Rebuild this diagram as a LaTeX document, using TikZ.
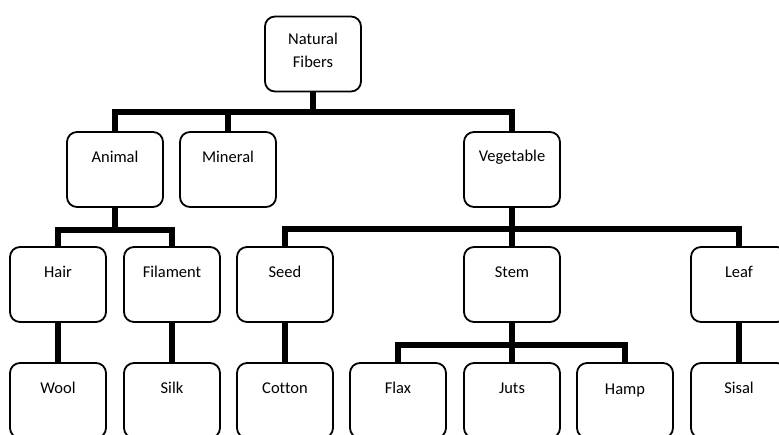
\documentclass[tikz,border=0pt]{standalone}
\usepackage{fontspec}
\setmainfont{Carlito}[Ligatures={NoCommon}]
\begin{document}
\begin{tikzpicture}[x=1pt,y=1pt,
  box/.style={draw=black, line width=1.8pt, rounded corners=10pt, minimum width=96pt, minimum height=75pt, inner sep=0pt, fill=white},
  conn/.style={line width=6pt, line join=miter, line cap=butt},
  lbl/.style={font=\fontsize{16.5}{23}\selectfont}
]
\useasboundingbox (0,0) rectangle (779,435);
\clip (0,0) rectangle (779,435);
% row 1
\node[box] (nf) at (313,381) {};
% row 2
\node[box] (animal) at (115,265.5) {};
\node[box] (mineral) at (228,265.5) {};
\node[box] (veg) at (512,265.5) {};
% row 3
\node[box] (hair) at (58,150.5) {};
\node[box] (filament) at (172,150.5) {};
\node[box] (seed) at (285,150.5) {};
\node[box] (stem) at (512,150.5) {};
\node[box] (leaf) at (739,150.5) {};
% row 4
\node[box] (wool) at (58,34.5) {};
\node[box] (silk) at (172,34.5) {};
\node[box] (cotton) at (285,34.5) {};
\node[box] (flax) at (398,34.5) {};
\node[box] (juts) at (512,34.5) {};
\node[box] (hamp) at (625,34.5) {};
\node[box] (sisal) at (739,34.5) {};
% labels
\node[lbl, align=center, anchor=north] (tnf) at ([yshift=-14pt]nf.north) {Natural\\Fibers};
\foreach \n/\t in {animal/Animal, mineral/Mineral, veg/Vegetable, hair/Hair, filament/Filament, seed/Seed, stem/Stem, leaf/Leaf, wool/Wool, silk/Silk, cotton/Cotton, flax/Flax, juts/Juts, sisal/Sisal}
  \node[lbl] (t\n) at ([yshift=-26pt]\n.north) {\t};
\node[lbl] (thamp) at ([yshift=-28pt]hamp.north) {Hamp};
% connectors
\draw[conn] (nf.south) -- ++(0,-19);
\draw[conn] (animal.north) -- ++(0,19) -| (veg.north);
\draw[conn] (mineral.north) -- ++(0,19);
\draw[conn] (hair.north) -- ++(0,16) -| (filament.north);
\draw[conn] (animal.south) -- ++(0,-22);
\draw[conn] (seed.north) -- ++(0,17) -| (leaf.north);
\draw[conn] (veg.south) -- ++(0,-22);
\draw[conn] (stem.north) -- ++(0,17);
\draw[conn] (flax.north) -- ++(0,17) -| (hamp.north);
\draw[conn] (stem.south) -- ++(0,-22);
\draw[conn] (juts.north) -- ++(0,17);
\draw[conn] (hair.south) -- (wool.north);
\draw[conn] (filament.south) -- (silk.north);
\draw[conn] (seed.south) -- (cotton.north);
\draw[conn] (leaf.south) -- (sisal.north);
\end{tikzpicture}
\end{document}
